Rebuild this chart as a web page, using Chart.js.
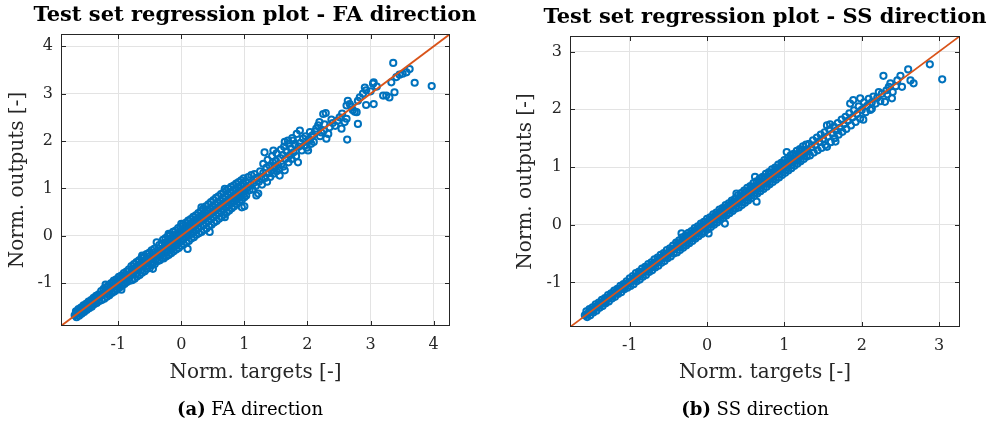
<!DOCTYPE html>
<html>
<head>
<meta charset="utf-8">
<script src="https://cdn.jsdelivr.net/npm/chart.js@4.4.0/dist/chart.umd.min.js"></script>
<style>
  html, body { margin: 0; padding: 0; background: #fff; }
  body { width: 1003px; height: 424px; position: relative; overflow: hidden; }
  canvas { position: absolute; top: 0; }
  .title { position: absolute; font: bold 21px 'DejaVu Serif'; line-height: 24px; color: #000; white-space: nowrap; transform: translateX(-50%); }
  .caption { position: absolute; top: 398px; font: 18px 'DejaVu Serif'; line-height: 22px; color: #000; white-space: nowrap; transform: translateX(-50%); }
  .caption b { font-weight: bold; }
</style>
</head>
<body>
<canvas id="fa" width="500" height="424" style="left:0px;width:500px;height:424px"></canvas>
<canvas id="ss" width="503" height="424" style="left:500px;width:503px;height:424px"></canvas>
<div class="title" style="left:255px;top:2px">Test set regression plot - FA direction</div>
<div class="title" style="left:765px;top:4px">Test set regression plot - SS direction</div>
<div class="caption" style="left:250px"><b>(a)</b> FA direction</div>
<div class="caption" style="left:755px"><b>(b)</b> SS direction</div>
<script>
// axis limits (equal on both axes) and tick values
const faLimits = [-1.907, 4.26];
const ssLimits = [-1.772, 3.27];
const faTicks = [-1, 0, 1, 2, 3, 4];
const ssTicks = [-1, 0, 1, 2, 3];

// [normalised target, normalised output]
const faPoints = [
  // dense band, lower end
  [-1.67,-1.60],[-1.63,-1.55],[-1.59,-1.52],[-1.55,-1.47],[-1.51,-1.44],[-1.47,-1.39],[-1.43,-1.36],[-1.39,-1.31],[-1.35,-1.27],[-1.31,-1.24],
  [-1.69,-1.68],[-1.65,-1.64],[-1.61,-1.61],[-1.57,-1.56],[-1.53,-1.53],[-1.49,-1.48],[-1.45,-1.45],[-1.41,-1.40],[-1.37,-1.37],[-1.33,-1.32],
  [-1.66,-1.72],[-1.62,-1.69],[-1.58,-1.65],[-1.54,-1.61],[-1.50,-1.57],[-1.46,-1.53],[-1.42,-1.50],[-1.38,-1.45],[-1.34,-1.42],[-1.30,-1.38],
  [-1.64,-1.60],[-1.56,-1.52],[-1.48,-1.44],[-1.40,-1.36],[-1.32,-1.28],[-1.60,-1.64],[-1.52,-1.56],[-1.44,-1.48],[-1.36,-1.40],
  [-1.27,-1.17],[-1.23,-1.12],[-1.19,-1.09],[-1.15,-1.04],[-1.11,-1.00],[-1.07,-0.95],[-1.03,-0.92],[-0.99,-0.87],[-0.95,-0.84],[-0.91,-0.79],
  [-0.87,-0.76],[-0.83,-0.71],
  [-1.29,-1.27],[-1.25,-1.24],[-1.21,-1.22],[-1.17,-1.16],[-1.13,-1.13],[-1.09,-1.08],[-1.05,-1.06],[-1.01,-1.00],[-0.97,-0.97],[-0.93,-0.92],
  [-0.89,-0.90],[-0.85,-0.84],[-0.81,-0.81],
  [-1.26,-1.36],[-1.22,-1.33],[-1.18,-1.29],[-1.14,-1.26],[-1.10,-1.21],[-1.06,-1.18],[-1.02,-1.14],[-0.98,-1.10],[-0.94,-1.06],[-0.90,-1.02],
  [-0.86,-0.98],[-0.82,-0.95],
  [-1.20,-1.15],[-1.12,-1.06],[-1.04,-0.98],[-0.96,-0.90],[-0.88,-0.82],[-1.16,-1.22],[-1.08,-1.15],[-1.00,-1.06],[-0.92,-0.98],[-0.84,-0.91],
  [-1.20,-1.03],[-0.95,-1.14],
  // dense band, middle
  [-0.79,-0.64],[-0.75,-0.60],[-0.71,-0.56],[-0.67,-0.52],[-0.63,-0.47],[-0.59,-0.44],[-0.55,-0.39],[-0.51,-0.36],[-0.47,-0.31],[-0.43,-0.28],
  [-0.39,-0.14],[-0.35,-0.20],[-0.31,-0.16],
  [-0.77,-0.77],[-0.73,-0.72],[-0.69,-0.70],[-0.65,-0.64],[-0.61,-0.62],[-0.57,-0.56],[-0.53,-0.54],[-0.49,-0.48],[-0.45,-0.46],[-0.41,-0.40],
  [-0.37,-0.38],[-0.33,-0.32],
  [-0.78,-0.94],[-0.74,-0.91],[-0.70,-0.86],[-0.66,-0.83],[-0.62,-0.78],[-0.58,-0.75],[-0.54,-0.70],[-0.50,-0.68],[-0.46,-0.62],[-0.42,-0.60],
  [-0.38,-0.54],[-0.34,-0.52],[-0.30,-0.47],
  [-0.76,-0.69],[-0.68,-0.61],[-0.60,-0.52],[-0.52,-0.44],[-0.44,-0.36],[-0.36,-0.28],
  [-0.72,-0.81],[-0.64,-0.73],[-0.56,-0.65],[-0.48,-0.57],[-0.40,-0.49],[-0.32,-0.41],
  [-0.62,-0.42],[-0.45,-0.70],
  [-0.29,-0.09],[-0.25,-0.05],[-0.21,-0.01],[-0.20,0.04],[-0.17,0.03],[-0.13,0.08],[-0.09,0.11],[-0.05,0.16],[-0.01,0.19],[0.00,0.25],
  [0.03,0.24],[0.07,0.27],[0.11,0.32],[0.15,0.35],[0.19,0.40],[0.23,0.43],[0.27,0.48],
  [-0.27,-0.27],[-0.23,-0.22],[-0.19,-0.20],[-0.15,-0.14],[-0.11,-0.12],[-0.07,-0.06],[-0.03,-0.04],[0.01,0.02],[0.05,0.04],[0.09,0.10],
  [0.13,0.12],[0.17,0.18],[0.21,0.20],[0.25,0.26],[0.29,0.28],
  [-0.28,-0.48],[-0.24,-0.44],[-0.20,-0.41],[-0.16,-0.37],[-0.12,-0.33],[-0.08,-0.29],[-0.04,-0.26],[0.00,-0.21],[0.04,-0.18],[0.08,-0.14],
  [0.12,-0.11],[0.16,-0.06],[0.20,-0.03],[0.24,0.02],[0.28,0.05],
  [-0.26,-0.16],[-0.18,-0.08],[-0.10,0.00],[-0.02,0.08],[0.06,0.17],[0.14,0.25],[0.22,0.33],[-0.22,-0.12],[-0.14,-0.03],[-0.06,0.05],
  [0.02,0.13],[0.10,0.21],[0.18,0.29],[0.26,0.37],
  [-0.25,-0.37],[-0.17,-0.29],[-0.09,-0.21],[-0.01,-0.13],[0.07,-0.04],[0.15,0.03],[0.23,0.11],[-0.21,-0.33],[-0.13,-0.25],[-0.05,-0.16],
  [0.03,-0.08],[0.11,0.00],[0.19,0.07],[0.27,0.16],
  [0.10,-0.28],
  // dense band, upper end
  [0.31,0.52],[0.35,0.57],[0.39,0.62],[0.43,0.66],[0.47,0.71],[0.51,0.75],[0.55,0.80],[0.59,0.83],[0.63,0.88],[0.67,0.91],
  [0.69,0.99],[0.71,0.95],[0.75,0.99],[0.79,1.03],[0.83,1.06],[0.87,1.10],[0.91,1.13],[0.95,1.17],[0.99,1.21],
  [0.33,0.33],[0.37,0.36],[0.41,0.42],[0.45,0.44],[0.49,0.50],[0.53,0.52],[0.57,0.58],[0.61,0.60],[0.65,0.66],[0.69,0.68],
  [0.73,0.74],[0.77,0.76],[0.81,0.82],[0.85,0.84],[0.89,0.90],[0.93,0.92],[0.97,0.98],
  [0.32,0.08],[0.36,0.12],[0.40,0.15],[0.44,0.20],[0.48,0.23],[0.52,0.28],[0.56,0.31],[0.60,0.36],[0.64,0.40],[0.68,0.45],
  [0.69,0.39],[0.72,0.49],[0.76,0.53],[0.80,0.58],[0.84,0.62],[0.88,0.67],[0.92,0.72],[0.96,0.60],[0.96,0.76],[1.00,0.62],[1.00,0.81],
  [0.34,0.45],[0.42,0.54],[0.50,0.62],[0.58,0.70],[0.66,0.79],[0.74,0.87],[0.82,0.95],[0.90,1.03],[0.98,1.10],[0.38,0.49],
  [0.46,0.58],[0.54,0.66],[0.62,0.74],[0.70,0.83],[0.78,0.91],[0.86,0.99],[0.94,1.06],
  [0.35,0.22],[0.43,0.31],[0.51,0.39],[0.59,0.47],[0.67,0.55],[0.75,0.63],[0.83,0.71],[0.91,0.80],[0.99,0.88],[0.39,0.27],
  [0.47,0.35],[0.55,0.43],[0.63,0.51],[0.71,0.60],[0.79,0.68],[0.87,0.76],[0.95,0.84],
  [0.45,0.08],[0.32,0.60],
  // second centre row, offset along the line
  [-1.67,-1.66],[-1.63,-1.63],[-1.59,-1.58],[-1.55,-1.55],[-1.51,-1.50],[-1.47,-1.47],[-1.43,-1.42],[-1.39,-1.39],[-1.35,-1.34],[-1.31,-1.31],
  [-1.27,-1.26],[-1.23,-1.23],[-1.19,-1.18],[-1.15,-1.15],[-1.11,-1.10],[-1.07,-1.07],[-1.03,-1.02],[-0.99,-0.99],[-0.95,-0.94],[-0.91,-0.91],
  [-0.87,-0.86],[-0.83,-0.83],[-0.79,-0.78],[-0.75,-0.75],[-0.71,-0.70],[-0.67,-0.67],[-0.63,-0.62],[-0.59,-0.59],[-0.55,-0.54],[-0.51,-0.51],
  [-0.47,-0.46],[-0.43,-0.43],[-0.39,-0.38],[-0.35,-0.35],[-0.31,-0.30],[-0.23,-0.24],[-0.19,-0.18],[-0.15,-0.16],[-0.11,-0.10],[-0.07,-0.08],
  [-0.03,-0.02],[0.01,0.00],[0.05,0.06],[0.09,0.08],[0.13,0.14],[0.17,0.16],[0.21,0.22],[0.25,0.24],[0.29,0.30],[0.33,0.32],
  [0.37,0.38],[0.41,0.40],[0.45,0.46],[0.49,0.48],[0.53,0.54],[0.57,0.56],[0.61,0.62],[0.65,0.64],[0.69,0.70],[0.73,0.72],
  [0.77,0.78],[0.81,0.80],[0.85,0.86],[0.89,0.88],[0.93,0.94],[0.97,0.96],
  // thinner band above 1
  [1.01,0.95],[1.02,1.15],[1.03,0.85],[1.05,1.02],[1.06,1.24],[1.08,0.96],[1.10,1.08],[1.11,1.28],[1.13,0.98],[1.15,1.12],
  [1.16,1.30],[1.18,1.05],[1.19,0.85],[1.20,1.22],[1.22,0.89],[1.23,1.14],[1.25,1.36],[1.27,1.20],[1.28,1.08],[1.30,1.32],
  [1.32,1.76],[1.33,1.22],[1.35,1.44],[1.36,1.14],[1.38,1.32],[1.40,1.48],[1.41,1.24],[1.43,1.38],[1.45,1.55],[1.46,1.31],
  [1.48,1.44],[1.50,1.58],[1.51,1.36],[1.53,1.50],[1.55,1.42],[1.56,1.27],[1.57,1.64],[1.59,1.52],[1.61,1.70],[1.62,1.46],
  [1.64,1.38],[1.65,1.62],[1.67,1.78],[1.69,2.01],[1.70,1.55],[1.72,1.70],[1.74,1.84],[1.75,1.62],[1.77,2.01],[1.78,1.76],
  [1.80,1.92],[1.82,1.68],[1.83,2.15],[1.85,1.55],[1.86,1.88],[1.88,2.22],[1.89,1.96],[1.91,1.80],[1.93,2.05],[1.95,1.90],
  [1.97,2.10],[1.99,1.86],[2.01,1.80],[2.02,2.04],[2.04,2.19],[2.04,2.01],[2.06,1.94],[2.08,2.12],[2.10,1.98],[2.12,2.20],
  [2.14,2.26],[2.17,2.33],[2.19,2.40],[2.20,2.10],[2.22,2.18],
  [1.30,1.52],[1.37,1.60],[1.44,1.68],[1.51,1.74],[1.58,1.82],[1.63,1.88],[1.70,1.94],[1.76,2.06],[1.64,1.98],[1.46,1.80],
  // sparse tail
  [2.25,2.57],[2.29,2.59],[2.26,2.22],[2.27,2.35],[2.30,2.05],[2.33,2.15],[2.35,2.29],[2.38,2.45],[2.40,2.38],[2.44,2.32],
  [2.48,2.43],[2.51,2.50],[2.54,2.26],[2.55,2.58],[2.59,2.40],[2.62,2.47],[2.63,2.03],[2.62,2.75],[2.64,2.85],[2.67,2.78],
  [2.70,2.72],[2.72,2.65],[2.75,2.62],[2.78,2.61],[2.80,2.36],[2.80,2.85],[2.83,2.92],[2.88,3.00],[2.91,3.13],[2.93,3.07],
  [2.93,2.76],[3.00,3.05],[3.04,3.21],[3.05,3.24],[3.05,2.78],[3.10,3.15],[3.20,2.96],[3.25,2.96],[3.30,2.92],[3.33,3.24],
  [3.36,3.65],[3.38,3.03],[3.41,3.35],[3.46,3.40],[3.51,3.42],[3.57,3.45],[3.62,3.52],[3.70,3.23],[3.97,3.16]
];

const ssPoints = [
  // dense band, lower end
  [-1.56,-1.50],[-1.52,-1.46],[-1.48,-1.43],[-1.44,-1.38],[-1.40,-1.35],[-1.36,-1.30],[-1.32,-1.27],[-1.28,-1.22],[-1.24,-1.19],[-1.20,-1.14],
  [-1.16,-1.11],[-1.12,-1.06],[-1.08,-1.03],[-1.04,-0.98],
  [-1.58,-1.57],[-1.54,-1.54],[-1.50,-1.49],[-1.46,-1.46],[-1.42,-1.41],[-1.38,-1.38],[-1.34,-1.33],[-1.30,-1.30],[-1.26,-1.25],[-1.22,-1.22],
  [-1.18,-1.17],[-1.14,-1.14],[-1.10,-1.09],[-1.06,-1.06],[-1.02,-1.01],
  [-1.55,-1.60],[-1.51,-1.57],[-1.47,-1.52],[-1.43,-1.49],[-1.39,-1.44],[-1.35,-1.41],[-1.31,-1.36],[-1.27,-1.33],[-1.23,-1.28],[-1.19,-1.25],
  [-1.15,-1.20],[-1.11,-1.17],[-1.07,-1.12],[-1.03,-1.09],
  [-1.00,-0.93],[-0.96,-0.89],[-0.92,-0.84],[-0.88,-0.81],[-0.84,-0.76],[-0.80,-0.73],[-0.76,-0.68],[-0.72,-0.65],[-0.68,-0.60],[-0.64,-0.57],
  [-0.60,-0.52],[-0.56,-0.49],[-0.52,-0.44],[-0.48,-0.41],[-0.44,-0.36],
  [-0.98,-0.98],[-0.94,-0.93],[-0.90,-0.90],[-0.86,-0.85],[-0.82,-0.82],[-0.78,-0.77],[-0.74,-0.74],[-0.70,-0.69],[-0.66,-0.66],[-0.62,-0.61],
  [-0.58,-0.58],[-0.54,-0.53],[-0.50,-0.50],[-0.46,-0.45],[-0.42,-0.42],
  [-0.99,-1.06],[-0.95,-1.03],[-0.91,-0.98],[-0.87,-0.95],[-0.83,-0.90],[-0.79,-0.87],[-0.75,-0.82],[-0.71,-0.79],[-0.67,-0.74],[-0.63,-0.71],
  [-0.59,-0.66],[-0.55,-0.63],[-0.51,-0.58],[-0.47,-0.55],[-0.43,-0.50],
  // dense band, middle
  [-0.40,-0.31],[-0.36,-0.27],[-0.33,-0.15],[-0.32,-0.22],[-0.28,-0.19],[-0.24,-0.14],[-0.20,-0.11],[-0.16,-0.06],[-0.12,-0.03],[-0.08,0.02],
  [-0.04,0.05],[0.00,0.10],[0.04,0.13],[0.08,0.18],[0.12,0.21],[0.16,0.26],[0.20,0.29],[0.24,0.34],[0.28,0.37],[0.32,0.42],
  [0.36,0.45],[0.38,0.54],
  [-0.38,-0.38],[-0.34,-0.33],[-0.30,-0.30],[-0.26,-0.25],[-0.22,-0.22],[-0.18,-0.17],[-0.14,-0.14],[-0.10,-0.09],[-0.06,-0.06],[-0.02,-0.01],
  [0.02,0.02],[0.06,0.07],[0.10,0.10],[0.14,0.15],[0.18,0.18],[0.22,0.23],[0.26,0.26],[0.30,0.31],[0.34,0.34],[0.38,0.39],
  [-0.39,-0.48],[-0.35,-0.44],[-0.31,-0.40],[-0.27,-0.36],[-0.23,-0.32],[-0.19,-0.28],[-0.15,-0.24],[-0.11,-0.20],[-0.07,-0.16],[-0.03,-0.12],
  [0.02,-0.15],[0.01,-0.08],[0.05,-0.04],[0.09,0.00],[0.13,0.04],[0.17,0.08],[0.21,0.12],[0.23,0.02],[0.25,0.16],[0.29,0.20],
  [0.33,0.24],[0.37,0.28],
  // dense band, upper end
  [0.40,0.51],[0.44,0.55],[0.48,0.59],[0.52,0.64],[0.56,0.67],[0.60,0.72],[0.62,0.83],[0.64,0.75],[0.68,0.80],[0.72,0.83],
  [0.76,0.88],[0.80,0.91],[0.84,0.96],[0.88,0.99],[0.92,1.04],[0.96,1.07],[1.00,1.12],[1.03,1.26],[1.04,1.15],[1.08,1.20],
  [1.12,1.23],[1.16,1.28],[1.20,1.31],[1.24,1.36],[1.28,1.39],
  [0.42,0.42],[0.46,0.47],[0.50,0.50],[0.54,0.55],[0.58,0.58],[0.62,0.63],[0.66,0.66],[0.70,0.71],[0.74,0.74],[0.78,0.79],
  [0.82,0.82],[0.86,0.87],[0.90,0.90],[0.94,0.95],[0.98,0.98],[1.02,1.03],[1.06,1.06],[1.10,1.11],[1.14,1.14],[1.18,1.19],
  [1.22,1.22],[1.26,1.27],
  [0.41,0.30],[0.45,0.34],[0.49,0.38],[0.53,0.42],[0.57,0.46],[0.61,0.50],[0.64,0.40],[0.65,0.54],[0.69,0.58],[0.73,0.62],
  [0.77,0.66],[0.81,0.70],[0.85,0.74],[0.89,0.78],[0.93,0.82],[0.97,0.86],[1.01,0.90],[1.05,0.94],[1.09,0.98],[1.13,1.02],
  [1.17,1.06],[1.21,1.10],[1.25,1.14],[1.29,1.18],
  // in-between rows that close the band
  [-1.56,-1.56],[-1.52,-1.51],[-1.48,-1.48],[-1.44,-1.43],[-1.40,-1.40],[-1.36,-1.35],[-1.32,-1.32],[-1.28,-1.27],[-1.24,-1.24],[-1.20,-1.19],
  [-1.16,-1.16],[-1.12,-1.11],[-1.08,-1.08],[-1.04,-1.03],[-1.00,-1.00],[-0.96,-0.95],[-0.92,-0.92],[-0.88,-0.87],[-0.84,-0.84],[-0.80,-0.79],
  [-0.76,-0.76],[-0.72,-0.71],[-0.68,-0.68],[-0.64,-0.63],[-0.60,-0.60],[-0.56,-0.55],[-0.52,-0.52],[-0.48,-0.47],[-0.44,-0.44],[-0.40,-0.39],
  [-0.36,-0.36],[-0.32,-0.31],[-0.28,-0.28],[-0.24,-0.23],[-0.20,-0.20],[-0.16,-0.15],[-0.12,-0.12],[-0.08,-0.07],[-0.04,-0.04],[0.00,0.01],
  [0.04,0.04],[0.08,0.09],[0.12,0.12],[0.16,0.17],[0.20,0.20],[0.24,0.25],[0.28,0.28],[0.32,0.33],[0.36,0.36],[0.40,0.41],
  [0.44,0.44],[0.48,0.49],[0.52,0.52],[0.56,0.57],[0.60,0.60],[0.64,0.65],[0.68,0.68],[0.72,0.73],[0.76,0.76],[0.80,0.81],
  [0.84,0.84],[0.88,0.89],[0.92,0.92],[0.96,0.97],[1.00,1.00],[1.04,1.05],[1.08,1.08],[1.12,1.13],[1.16,1.16],[1.20,1.21],
  [1.24,1.24],[1.28,1.29],
  [-0.38,-0.33],[-0.30,-0.25],[-0.22,-0.17],[-0.14,-0.09],[-0.06,-0.01],[0.02,0.07],[0.10,0.15],[0.18,0.23],[0.26,0.31],[0.34,0.39],
  [0.42,0.48],[0.50,0.56],[0.58,0.64],[0.66,0.72],[0.74,0.80],[0.82,0.88],[0.90,0.96],[0.98,1.04],[1.06,1.12],[1.14,1.20],[1.22,1.28],
  [-0.34,-0.39],[-0.26,-0.31],[-0.18,-0.23],[-0.10,-0.15],[-0.02,-0.07],[0.06,0.01],[0.14,0.09],[0.22,0.17],[0.30,0.25],[0.38,0.33],
  [0.46,0.40],[0.54,0.48],[0.62,0.56],[0.70,0.64],[0.78,0.72],[0.86,0.80],[0.94,0.88],[1.02,0.96],[1.10,1.04],[1.18,1.12],[1.26,1.20],
  // thinner band and tail
  [1.30,1.29],[1.32,1.40],[1.33,1.20],[1.35,1.34],[1.37,1.46],[1.38,1.25],[1.40,1.38],[1.42,1.51],[1.43,1.29],[1.45,1.44],
  [1.47,1.56],[1.48,1.33],[1.50,1.49],[1.52,1.60],[1.53,1.38],[1.55,1.35],[1.55,1.72],[1.56,1.53],[1.58,1.65],[1.59,1.74],
  [1.60,1.43],[1.62,1.58],[1.64,1.70],[1.66,1.44],[1.65,1.50],[1.67,1.63],[1.69,1.76],[1.70,1.56],[1.72,1.68],[1.74,1.82],
  [1.75,1.61],[1.77,1.74],[1.79,1.87],[1.80,1.66],[1.82,1.80],[1.84,1.93],[1.85,2.10],[1.86,1.72],[1.88,1.86],[1.89,2.16],
  [1.90,1.98],[1.92,1.78],[1.94,1.92],[1.96,2.05],[1.98,2.19],[1.98,1.84],[2.00,1.99],[2.02,1.82],[2.03,2.12],[2.05,1.95],
  [2.07,2.06],[2.09,2.18],[2.11,1.99],[2.13,2.01],[2.13,2.12],[2.15,2.22],[2.18,2.10],[2.20,2.20],[2.22,2.30],[2.24,2.14],
  [2.26,2.27],[2.28,2.58],[2.30,2.13],[2.32,2.33],[2.35,2.39],[2.37,2.45],[2.39,2.19],[2.40,2.30],[2.44,2.40],[2.33,2.26],
  [2.46,2.50],[2.50,2.58],[2.52,2.39],[2.60,2.69],[2.63,2.50],[2.67,2.45],[2.88,2.78],[3.04,2.52]
];

const blue = '#0072BD';
const orange = '#D95319';
const axisColor = '#262626';
const gridColor = '#e3e3e3';

// box round the axes with inward ticks on all four sides, like MATLAB
const framePlugin = {
  id: 'frame',
  afterDatasetsDraw(chart) {
    const {ctx, chartArea: a, scales: {x, y}} = chart;
    ctx.save();
    ctx.strokeStyle = axisColor;
    ctx.lineWidth = 1;
    ctx.beginPath();
    x.ticks.forEach(t => {
      const px = Math.round(x.getPixelForValue(t.value)) + 0.5;
      ctx.moveTo(px, a.bottom); ctx.lineTo(px, a.bottom - 5);
      ctx.moveTo(px, a.top); ctx.lineTo(px, a.top + 5);
    });
    y.ticks.forEach(t => {
      const py = Math.round(y.getPixelForValue(t.value)) + 0.5;
      ctx.moveTo(a.left, py); ctx.lineTo(a.left + 5, py);
      ctx.moveTo(a.right, py); ctx.lineTo(a.right - 5, py);
    });
    ctx.stroke();
    ctx.strokeRect(Math.round(a.left) + 0.5, Math.round(a.top) + 0.5, Math.round(a.width) - 1, Math.round(a.height) - 1);
    ctx.restore();
  }
};

function makePlot(id, points, limits, ticks, box) {
  const tickFont = {family: 'DejaVu Serif', size: 16};
  const titleFont = {family: 'DejaVu Serif', size: 20};
  new Chart(document.getElementById(id), {
    type: 'scatter',
    data: {
      datasets: [
        {
          type: 'line',
          data: [{x: limits[0], y: limits[0]}, {x: limits[1], y: limits[1]}],
          borderColor: orange,
          borderWidth: 1.8,
          pointRadius: 0,
          order: 0
        },
        {
          data: points.map(p => ({x: p[0], y: p[1]})),
          pointStyle: 'circle',
          pointRadius: 3.1,
          borderWidth: 2,
          borderColor: blue,
          backgroundColor: 'rgba(0,0,0,0)',
          order: 1
        }
      ]
    },
    options: {
      responsive: false,
      animation: false,
      layout: {padding: {top: box.top, right: box.right, left: 0, bottom: 0}},
      plugins: {legend: {display: false}, tooltip: {enabled: false}},
      scales: {
        x: {
          type: 'linear',
          min: limits[0],
          max: limits[1],
          afterBuildTicks: s => { s.ticks = ticks.map(v => ({value: v})); },
          afterFit: s => { s.height = box.xHeight; },
          grid: {color: gridColor, drawTicks: false},
          border: {display: false},
          ticks: {font: tickFont, color: axisColor, padding: 9, maxRotation: 0, callback: v => String(v)},
          title: {display: true, text: 'Norm. targets [-]', font: titleFont, color: axisColor, padding: {top: 0, bottom: 39}}
        },
        y: {
          type: 'linear',
          min: limits[0],
          max: limits[1],
          afterBuildTicks: s => { s.ticks = ticks.map(v => ({value: v})); },
          afterFit: s => { s.width = box.yWidth; },
          grid: {color: gridColor, drawTicks: false},
          border: {display: false},
          ticks: {font: tickFont, color: axisColor, padding: 8, callback: v => String(v)},
          title: {display: true, text: 'Norm. outputs [-]', font: titleFont, color: axisColor, padding: {top: box.yTitle, bottom: 0}}
        }
      }
    },
    plugins: [framePlugin]
  });
}

makePlot('fa', faPoints, faLimits, faTicks, {top: 34, right: 50, xHeight: 98, yWidth: 61, yTitle: 6});
makePlot('ss', ssPoints, ssLimits, ssTicks, {top: 36, right: 43, xHeight: 97, yWidth: 70, yTitle: 14});
</script>
</body>
</html>
